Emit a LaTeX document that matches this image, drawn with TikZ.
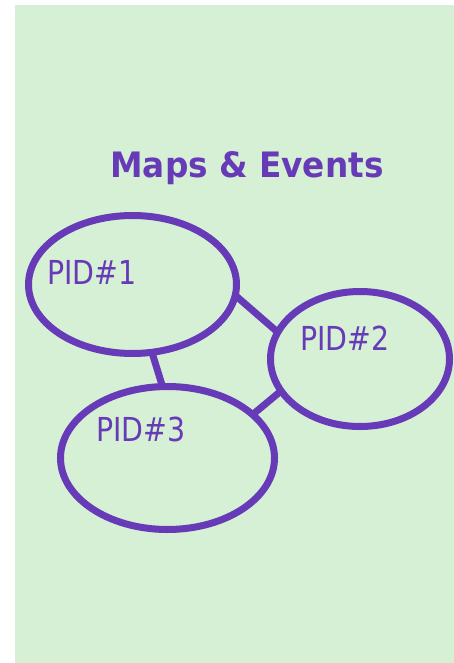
\documentclass[tikz,border=0pt]{standalone}
\usepackage{fontspec}
\usetikzlibrary{shapes.geometric}
\newfontfamily\djfont{DejaVu Sans}
\definecolor{bggreen}{HTML}{D5F0D4}
\definecolor{pidpurple}{HTML}{673AB7}
\tikzset{
  pid/.style={ellipse, draw=pidpurple, line width=7pt, inner sep=0pt, outer sep=0pt},
  link/.style={draw=pidpurple, line width=7pt},
  pidtext/.style={anchor=base west, inner sep=0pt, text=pidpurple, font=\djfont\fontsize{33}{40}\selectfont},
  titletext/.style={anchor=base, inner sep=0pt, text=pidpurple, font=\djfont\bfseries\fontsize{35}{40}\selectfont}
}
\begin{document}
\begin{tikzpicture}[x=1pt,y=-1pt]
\useasboundingbox (0,0) rectangle (454,663);
\fill[bggreen] (15,5) rectangle (454,663);
\node[titletext] (title) at (247,177) {\scalebox{0.935}[1]{Maps \& Events}};
\node[pid, minimum width=208pt, minimum height=138pt] (p1) at (132.5,284.5) {};
\node[pid, minimum width=179pt, minimum height=135pt] (p2) at (360,359) {};
\node[pid, minimum width=214pt, minimum height=143pt] (p3) at (167.5,458) {};
\draw[link] (p1.-6) -- (p2.162);
\draw[link] (p1.-74) -- (p3.94);
\draw[link] (p2.202) -- (p3.27);
\node[pidtext] (l1) at (47,284) {\scalebox{0.86}[1]{PID\#1}};
\node[pidtext] (l2) at (300,350) {\scalebox{0.86}[1]{PID\#2}};
\node[pidtext] (l3) at (96,441) {\scalebox{0.86}[1]{PID\#3}};
\end{tikzpicture}
\end{document}
